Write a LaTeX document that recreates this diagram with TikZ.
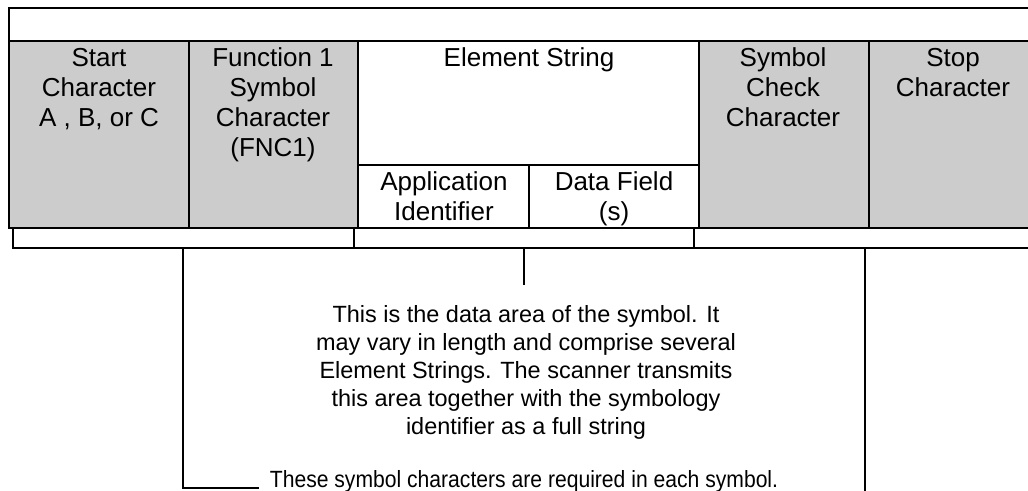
\documentclass[tikz,border=0pt]{standalone}
\usepackage{fontspec}
\usepackage{graphicx}
\setmainfont{Liberation Sans}
\definecolor{cellgray}{HTML}{CCCCCC}
\begin{document}
\begin{tikzpicture}[x=0.75pt,y=-0.75pt,
  frame/.style={line width=1.5pt},
  thinline/.style={line width=1.1pt},
  celltext/.style={align=center, anchor=base, inner sep=0pt, font=\fontsize{19.5}{22.5}\selectfont},
  datatext/.style={align=center, anchor=base, inner sep=0pt, font=\fontsize{17.6}{21}\selectfont},
  notetext/.style={anchor=base, inner sep=0pt, font=\fontsize{17.6}{19}\selectfont}]
\useasboundingbox (0,0) rectangle (1028,491);
% gray cells
\fill[cellgray] (9,41) rectangle (358,228);
\fill[cellgray] (699,41) rectangle (1040,228);
% table frame
\draw[frame] (1040,8) -- (9,8) -- (9,228) -- (1040,228);
\draw[frame] (9,41) -- (1040,41);
\draw[frame] (189,41) -- (189,228);
\draw[frame] (358,41) -- (358,228);
\draw[frame] (699,41) -- (699,228);
\draw[frame] (869,41) -- (869,228);
\draw[frame] (358,165) -- (699,165);
\draw[frame] (529,165) -- (529,228);
% cell texts (anchor = baseline of last line)
\node[celltext] (start) at (99,127) {Start\\Character\\A , B, or C};
\node[celltext] (fnc) at (273,157) {Function 1\\Symbol\\Character\\(FNC1)};
\node[celltext] (elem) at (529,67) {Element String};
\node[celltext] (ai) at (444,221) {Application\\Identifier};
\node[celltext] (df) at (614,221) {Data Field\\(s)};
\node[celltext] (check) at (783,127) {Symbol\\Check\\Character};
\node[celltext] (stop) at (953,97) {Stop\\Character};
% bracket
\coordinate (bl) at (13,229);
\coordinate (blb) at (13,248);
\coordinate (brb) at (1040,248);
\coordinate (t1) at (354,229);
\coordinate (t1b) at (354,248);
\coordinate (t2) at (694,229);
\coordinate (t2b) at (694,248);
\draw[frame] (bl) -- (blb) -- (brb);
\draw[frame] (t1) -- (t1b);
\draw[frame] (t2) -- (t2b);
% lower lines
\coordinate (l1) at (183,248);
\coordinate (l2) at (183,488);
\coordinate (l3) at (259,488);
\coordinate (c1) at (524,248);
\coordinate (c2) at (524,285);
\coordinate (r1) at (865,248);
\coordinate (r2) at (865,491);
\draw[thinline] (l1) -- (l2) -- (l3);
\draw[thinline] (c1) -- (c2);
\draw[thinline] (r1) -- (r2);
% texts
\node[datatext] (data) at (526,435) {This is the data area of the symbol. It\\may vary in length and comprise several\\Element Strings. The scanner transmits\\this area together with the symbology\\identifier as a full string};
\node[notetext] (note) at (524,487) {\scalebox{0.9}[1]{These symbol characters are required in each symbol.}};
\end{tikzpicture}
\end{document}
